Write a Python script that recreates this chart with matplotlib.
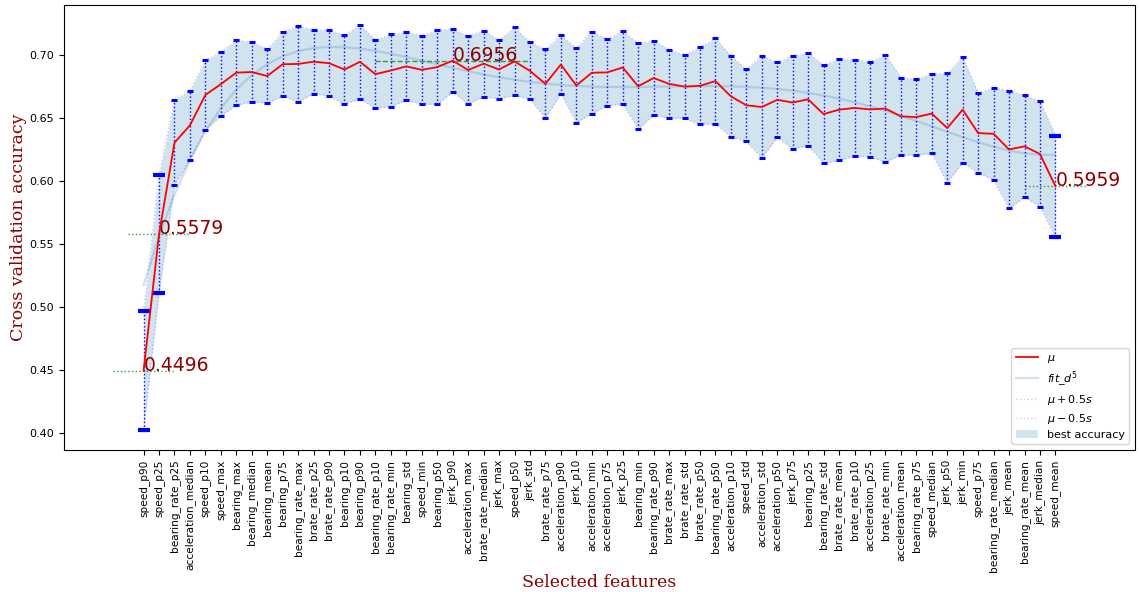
from matplotlib import pyplot as plt
import numpy as np


features = ["speed_p90", "speed_p25", "bearing_rate_p25", "acceleration_median", "speed_p10",
            "speed_max", "bearing_max", "bearing_median", "bearing_mean", "bearing_p75",
            "bearing_rate_max", "brate_rate_p25", "brate_rate_p90", "bearing_p10", "bearing_p90",
            "bearing_rate_p10", "bearing_rate_min", "bearing_std", "speed_min", "bearing_p50",
            "jerk_p90", "acceleration_max", "brate_rate_median", "jerk_max", "speed_p50",
            "jerk_std", "brate_rate_p75", "acceleration_p90", "jerk_p10", "acceleration_min",
            "acceleration_p75", "jerk_p25", "bearing_min", "bearing_rate_p90", "brate_rate_max",
            "brate_rate_std", "brate_rate_p50", "bearing_rate_p50", "acceleration_p10", "speed_std",
            "acceleration_std", "acceleration_p50", "jerk_p75", "bearing_p25", "bearing_rate_std",
            "brate_rate_mean", "brate_rate_p10", "acceleration_p25", "brate_rate_min", "acceleration_mean",
            "bearing_rate_p75", "speed_median", "jerk_p50", "jerk_min", "speed_p75",
            "bearing_rate_median", "jerk_mean", "bearing_rate_mean", "jerk_median", "speed_mean"]

# mean cv accuracy after adding each feature
mu = [0.4496, 0.5579, 0.6305, 0.6443, 0.6684, 0.6770, 0.6861, 0.6866, 0.6834, 0.6928,
      0.6930, 0.6948, 0.6936, 0.6886, 0.6947, 0.6849, 0.6878, 0.6911, 0.6883, 0.6905,
      0.6956, 0.6882, 0.6932, 0.6886, 0.6950, 0.6875, 0.6772, 0.6925, 0.6759, 0.6860,
      0.6863, 0.6902, 0.6753, 0.6818, 0.6772, 0.6750, 0.6756, 0.6794, 0.6673, 0.6602,
      0.6588, 0.6645, 0.6624, 0.6649, 0.6532, 0.6567, 0.6581, 0.6569, 0.6576, 0.6514,
      0.6508, 0.6536, 0.6421, 0.6567, 0.6381, 0.6375, 0.6251, 0.6276, 0.6215, 0.5959]

# std of the cv folds
std = [0.0944, 0.0933, 0.0677, 0.0549, 0.0552, 0.0507, 0.0517, 0.0473, 0.0430, 0.0509,
       0.0600, 0.0506, 0.0523, 0.0548, 0.0586, 0.0544, 0.0573, 0.0538, 0.0543, 0.0591,
       0.0501, 0.0537, 0.0525, 0.0464, 0.0541, 0.0453, 0.0546, 0.0464, 0.0592, 0.0650,
       0.0530, 0.0578, 0.0679, 0.0589, 0.0543, 0.0504, 0.0610, 0.0677, 0.0642, 0.0573,
       0.0812, 0.0595, 0.0740, 0.0735, 0.0779, 0.0806, 0.0764, 0.0756, 0.0850, 0.0615,
       0.0603, 0.0633, 0.0867, 0.0840, 0.0632, 0.0735, 0.0936, 0.0807, 0.0839, 0.0804]

marked = [0, 1, 59]
FIT_DEG = 5
LABEL_COLOR = "darkred"


def annotate(ax, i, value, style=":"):
    w = 2 if style == ":" else 5
    ax.plot([i - w, i + w], [value, value], style, color="green", alpha=0.75, lw=1)
    ax.text(i, value, "%.4f" % value, color=LABEL_COLOR, fontsize=13.5)


x = np.arange(len(features))
m = np.array(mu)
s = np.array(std)
upper = m + 0.5 * s
lower = m - 0.5 * s

fit = np.polyval(np.polyfit(x, m, FIT_DEG), x)

fig = plt.figure(figsize=(11.39, 5.92), dpi=100)
ax = fig.add_axes([64 / 1139, 142 / 592, 1071 / 1139, 445 / 592])

ax.plot(x, m, "-", color="red", lw=1.3, label=r"$\mu$", zorder=5)
ax.plot(x, fit, "-", color="C0", alpha=0.22, lw=1.6, label=r"$fit\_d^5$")
ax.plot(x, upper, ":", color="b", alpha=0.2, lw=1, label=r"$\mu + 0.5s$")
ax.plot(x, lower, ":", color="b", alpha=0.2, lw=1, label=r"$\mu - 0.5s$")
ax.fill_between(x, lower, upper, color="C0", alpha=0.2, lw=0, label="best accuracy")

ax.vlines(x, lower, upper, colors="b", linestyles=":", lw=1)
ax.plot(x, upper, "_", color="b", ms=5, mew=2.2, ls="none")
ax.plot(x, lower, "_", color="b", ms=5, mew=2.2, ls="none")
ax.plot(x[marked], upper[marked], "_", color="b", ms=9, mew=3, ls="none")
ax.plot(x[marked], lower[marked], "_", color="b", ms=9, mew=3, ls="none")

for i in marked:
    annotate(ax, i, m[i])
best = int(np.argmax(m))
annotate(ax, best, m[best], "--")

ax.set_xticks(x)
ax.set_xticklabels(features, rotation=90, fontsize=7.6)
ax.tick_params(axis="y", labelsize=8)
ax.set_xlim(-5.15, 64.15)
ax.set_ylim(0.3865, 0.7398)

ax.set_xlabel("Selected features", family="serif", color=LABEL_COLOR, fontsize=12.5)
ax.set_ylabel("Cross validation accuracy", family="serif", color=LABEL_COLOR, fontsize=12.5)
ax.xaxis.set_label_coords(0.5, -0.279)
ax.yaxis.set_label_coords(-0.0345, 0.5)

ax.legend(loc="lower right", fontsize=8, labelspacing=0.4)

fig.savefig("out.png", dpi=100)
